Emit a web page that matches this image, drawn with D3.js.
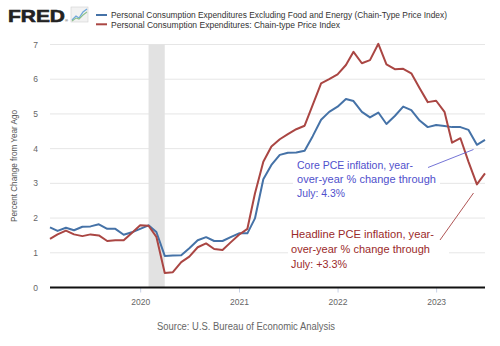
<!DOCTYPE html>
<html><head><meta charset="utf-8">
<script src="https://cdn.jsdelivr.net/npm/d3@7"></script>
<style>body{margin:0;background:#fff;}svg{display:block;font-family:"Liberation Sans",Arial,sans-serif;}</style>
</head><body><svg id="c" width="500" height="346"></svg>
<script>
const months = ["2019-02","2019-03","2019-04","2019-05","2019-06","2019-07","2019-08","2019-09","2019-10","2019-11","2019-12",
"2020-01","2020-02","2020-03","2020-04","2020-05","2020-06","2020-07","2020-08","2020-09","2020-10","2020-11","2020-12",
"2021-01","2021-02","2021-03","2021-04","2021-05","2021-06","2021-07","2021-08","2021-09","2021-10","2021-11","2021-12",
"2022-01","2022-02","2022-03","2022-04","2022-05","2022-06","2022-07","2022-08","2022-09","2022-10","2022-11","2022-12",
"2023-01","2023-02","2023-03","2023-04","2023-05","2023-06","2023-07"];
const corePCE = [1.73,1.63,1.72,1.65,1.75,1.76,1.82,1.69,1.69,1.52,1.59,
1.69,1.79,1.60,0.91,0.92,0.93,1.13,1.36,1.45,1.34,1.34,1.45,
1.56,1.56,1.99,3.12,3.53,3.82,3.88,3.89,3.94,4.36,4.83,5.06,
5.21,5.43,5.37,5.06,4.90,5.04,4.71,4.94,5.21,5.11,4.81,4.62,
4.68,4.65,4.62,4.62,4.54,4.11,4.25];
const headlinePCE = [1.40,1.53,1.64,1.53,1.48,1.53,1.50,1.34,1.36,1.36,1.57,
1.79,1.78,1.46,0.42,0.44,0.73,0.89,1.16,1.27,1.11,1.08,1.30,
1.52,1.69,2.71,3.62,4.06,4.27,4.42,4.56,4.66,5.26,5.88,6.00,
6.14,6.41,6.79,6.46,6.55,7.02,6.43,6.29,6.30,6.17,5.74,5.34,
5.38,5.06,4.17,4.30,3.62,2.97,3.29];
const yTicks = [0,1,2,3,4,5,6,7];
const xTickYears = ["2020","2021","2022","2023"];
const recession = ["2020-02","2020-04"];
const seriesNames = ["Personal Consumption Expenditures Excluding Food and Energy (Chain-Type Price Index)",
  "Personal Consumption Expenditures: Chain-type Price Index"];
const coreNote = ["Core PCE inflation, year-","over-year % change through","July: 4.3%"];
const headNote = ["Headline PCE inflation, year-","over-year % change through","July: +3.3%"];

const parse = d3.timeParse("%Y-%m");
const svg = d3.select("#c");
const x = d3.scaleTime().domain([parse(months[0]), parse(months[months.length-1])]).range([50,485]);
const y = d3.scaleLinear().domain([0,7]).range([287.5,44.5]);

// gridlines
svg.append("g").selectAll("line").data(yTicks.filter(d=>d>0)).join("line")
  .attr("x1",50).attr("x2",485).attr("y1",d=>y(d)).attr("y2",d=>y(d))
  .attr("stroke","#e6e6e6").attr("stroke-width",1);
// recession
svg.append("rect").attr("x",x(parse(recession[0]))).attr("width",x(parse(recession[1]))-x(parse(recession[0])))
  .attr("y",y(7)).attr("height",y(0)-y(7)).attr("fill","#e2e2e2");

// y labels
svg.append("g").selectAll("text").data(yTicks).join("text")
  .attr("x",38).attr("y",d=>y(d)+3).attr("text-anchor","end").attr("font-size",8.5).attr("fill","#666").text(d=>d);
svg.append("text").attr("transform","translate(17,166) rotate(-90)").attr("text-anchor","middle")
  .attr("font-size",8.5).attr("fill","#555").attr("textLength",112).attr("lengthAdjust","spacingAndGlyphs")
  .text("Percent Change from Year Ago");

// x axis
const xg = svg.append("g").attr("transform",`translate(0,${y(0)})`)
  .call(d3.axisBottom(x).tickValues(xTickYears.map(d=>d3.timeParse("%Y")(d))).tickFormat(d3.timeFormat("%Y")).tickSize(5).tickPadding(6));
xg.select(".domain").remove();
xg.selectAll(".tick line").attr("stroke","#c8d2e6");
xg.selectAll(".tick text").attr("font-size",8.5).attr("fill","#666").attr("font-family","Liberation Sans, Arial, sans-serif");
svg.append("line").attr("x1",50).attr("x2",485).attr("y1",y(0)).attr("y2",y(0)).attr("stroke","#111").attr("stroke-width",2);

// lines
const line = vals => d3.line().x((d,i)=>x(parse(months[i]))).y(d=>y(d))(vals);
svg.append("path").attr("d",line(corePCE)).attr("fill","none").attr("stroke","#4572a7").attr("stroke-width",2).attr("stroke-linejoin","round");
svg.append("path").attr("d",line(headlinePCE)).attr("fill","none").attr("stroke","#aa4643").attr("stroke-width",2).attr("stroke-linejoin","round");

// annotation boxes
svg.append("rect").attr("x",293).attr("y",157).attr("width",147).attr("height",43).attr("fill","#fff");
svg.append("rect").attr("x",288).attr("y",224).attr("width",161).attr("height",48).attr("fill","#fff");
svg.append("g").selectAll("text").data(coreNote).join("text")
  .attr("x",297).attr("y",(d,i)=>169+i*14).attr("font-size",11.5).attr("fill","#5050cc")
  .attr("textLength",(d,i)=>[116,139,48][i]).attr("lengthAdjust","spacingAndGlyphs").text(d=>d);
svg.append("g").selectAll("text").data(headNote).join("text")
  .attr("x",291).attr("y",(d,i)=>238+i*15).attr("font-size",11.5).attr("fill","#9b2a2a")
  .attr("textLength",(d,i)=>[143,139,56][i]).attr("lengthAdjust","spacingAndGlyphs").text(d=>d);
svg.append("line").attr("x1",428).attr("y1",167.5).attr("x2",473.5).attr("y2",149.5).attr("stroke","#5050cc").attr("stroke-width",0.8);
svg.append("line").attr("x1",440).attr("y1",240).attr("x2",473.5).attr("y2",193).attr("stroke","#9b2a2a").attr("stroke-width",0.8);

// header: FRED logo
svg.append("text").attr("x",8).attr("y",22).attr("font-size",17).attr("font-weight",900)
  .attr("textLength",57).attr("lengthAdjust","spacingAndGlyphs").attr("fill","#222")
  .attr("stroke","#222").attr("stroke-width",0.6).text("FRED");
svg.append("text").attr("x",65).attr("y",22).attr("font-size",4).attr("fill","#222").text("®");
const ic = svg.append("g").attr("transform","translate(71,7)");
ic.append("rect").attr("width",17).attr("height",15).attr("fill","#f2f2f2").attr("stroke","#d0d0d0").attr("stroke-width",0.6);
ic.append("polyline").attr("points","1,13 5,9 8,11 12,5 16,2").attr("fill","none").attr("stroke","#6fa8dc").attr("stroke-width",1.3);
ic.append("polyline").attr("points","1,14 5,11 8,12 12,8 16,5").attr("fill","none").attr("stroke","#8cc08c").attr("stroke-width",1.1);

// legend
const legColors = ["#4572a7","#aa4643"];
const legLens = [336,229];
seriesNames.forEach((n,i)=>{
  svg.append("line").attr("x1",96).attr("x2",107).attr("y1",15+i*9.3).attr("y2",15+i*9.3).attr("stroke",legColors[i]).attr("stroke-width",2);
  svg.append("text").attr("x",111).attr("y",18.2+i*9.3).attr("font-size",9.2).attr("fill","#333")
    .attr("textLength",legLens[i]).attr("lengthAdjust","spacingAndGlyphs").text(n);
});

// source
svg.append("text").attr("x",246).attr("y",330).attr("text-anchor","middle").attr("font-size",10).attr("fill","#666")
  .attr("textLength",178).attr("lengthAdjust","spacingAndGlyphs")
  .text("Source: U.S. Bureau of Economic Analysis");
</script></body></html>
